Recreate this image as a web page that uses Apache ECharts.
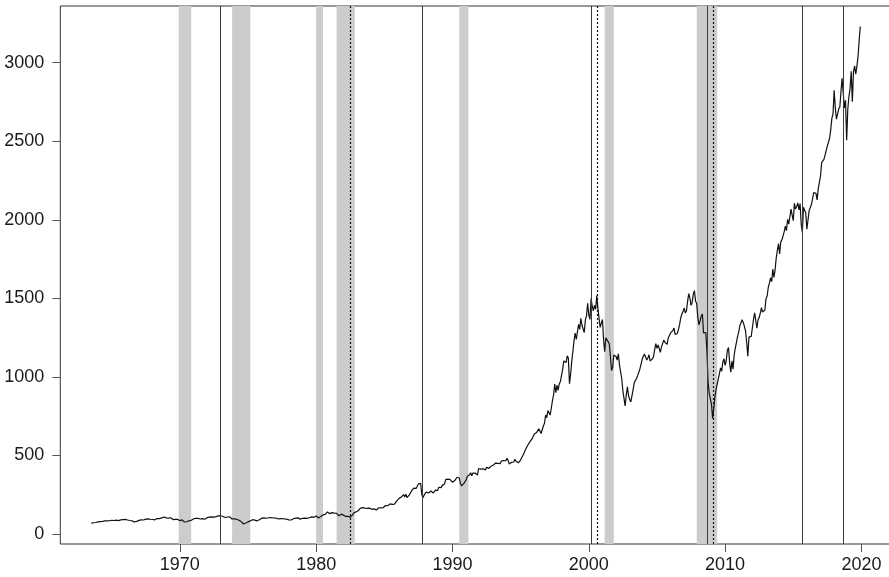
<!DOCTYPE html>
<html>
<head>
<meta charset="utf-8">
<script src="https://cdn.jsdelivr.net/npm/echarts@6/dist/echarts.min.js"></script>
<style>
html,body{margin:0;padding:0;background:#fff;}
#chart{width:889px;height:577px;}
</style>
</head>
<body>
<div id="chart"></div>
<script>
// Monthly index closes, first value = July 1963, last = December 2019
const firstYear = 1963, firstMonth = 7;
const closes = [
69.13,72.50,71.70,74.01,73.23,75.02,
77.04,77.80,78.98,79.46,80.37,81.69,83.18,81.83,84.18,84.86,84.42,84.75,
87.56,87.43,86.16,89.11,88.42,84.12,85.25,87.17,89.96,92.42,91.61,92.43,
92.88,91.22,89.23,91.06,86.13,84.74,83.60,77.10,76.56,80.20,80.45,80.33,
86.61,86.78,90.20,94.01,89.08,90.64,94.75,93.64,96.71,93.90,94.00,96.47,
92.24,89.36,90.20,97.59,98.68,99.58,97.74,98.86,102.67,103.41,108.37,103.86,
103.01,98.13,101.51,103.69,103.46,97.71,91.83,95.51,93.12,97.24,93.81,92.06,
85.02,89.50,89.63,81.52,76.55,72.72,78.05,81.52,84.21,83.25,87.20,92.15,
95.88,96.75,100.31,103.95,99.63,99.70,95.58,99.03,98.34,94.23,93.99,102.09,
103.94,106.57,107.20,107.67,109.53,107.14,107.39,111.09,110.55,111.58,116.67,118.05,
116.03,111.68,111.52,106.97,104.95,104.26,108.22,104.25,108.43,108.29,95.96,97.55,
96.57,96.22,93.98,90.31,87.28,86.00,79.31,72.15,63.54,73.90,69.97,68.56,
76.98,81.59,83.36,87.30,91.15,95.19,88.75,86.88,83.87,89.04,91.24,90.19,
100.86,99.71,102.77,101.64,100.18,104.28,103.44,102.91,105.24,102.90,102.10,107.46,
102.03,99.82,98.42,98.44,96.12,100.48,98.85,96.77,96.53,92.34,94.83,95.10,
89.25,87.04,89.21,96.83,97.24,95.53,100.68,103.29,102.54,93.15,94.70,96.11,
99.93,96.28,101.59,101.76,99.08,102.91,103.81,109.32,109.32,101.82,106.16,107.94,
114.16,113.66,102.09,106.29,111.24,114.24,121.67,122.38,125.46,127.47,140.52,135.76,
129.55,131.27,136.00,132.81,132.59,131.21,130.92,122.79,116.18,121.89,126.35,122.55,
120.40,113.11,111.96,116.44,111.88,109.61,107.09,119.51,120.42,133.71,138.54,140.64,
145.30,148.06,152.96,164.42,162.39,168.11,162.56,164.40,166.07,163.55,166.40,164.93,
163.41,157.06,159.18,160.05,150.55,153.18,150.66,166.68,166.10,166.09,163.58,167.24,
179.63,181.18,180.66,179.83,189.55,191.85,190.92,188.63,182.08,189.82,202.17,211.28,
211.78,226.92,238.90,235.52,247.35,250.84,236.12,252.93,231.32,243.98,249.22,242.17,
274.08,284.20,291.70,288.36,290.10,304.00,318.66,329.80,321.83,251.79,230.30,247.08,
257.07,267.82,258.89,261.33,262.16,273.50,272.02,261.52,271.91,278.97,273.70,277.72,
297.47,288.86,294.87,309.64,320.52,317.98,346.08,351.45,349.15,340.36,345.99,353.40,
329.08,331.89,339.94,330.80,361.23,358.02,356.15,322.56,306.05,304.00,322.22,330.22,
343.93,367.07,375.22,375.35,389.83,371.16,387.81,395.43,387.86,392.46,375.22,417.09,
408.79,412.70,403.69,414.95,415.35,408.14,424.21,414.03,417.80,418.68,431.35,435.71,
438.78,443.38,451.67,440.19,450.19,450.53,448.13,463.56,458.93,467.83,461.79,466.45,
481.61,467.14,445.77,450.91,456.50,444.27,458.26,475.49,462.69,472.35,453.69,459.27,
470.42,487.39,500.71,514.71,533.40,544.75,562.06,561.88,584.41,581.50,605.37,615.93,
636.02,640.43,645.50,654.17,669.12,670.63,639.95,651.99,687.33,705.27,757.02,740.74,
786.16,790.82,757.12,801.34,848.28,885.14,954.29,899.47,947.28,914.62,955.40,970.43,
980.28,1049.34,1101.75,1111.75,1090.82,1133.84,1120.67,957.28,1017.01,1098.67,1163.63,1229.23,
1279.64,1238.33,1286.37,1335.18,1301.84,1372.71,1328.72,1320.41,1282.71,1362.93,1388.91,1469.25,
1394.46,1366.42,1498.58,1452.43,1420.60,1454.60,1430.83,1517.68,1436.51,1429.40,1314.95,1320.28,
1366.01,1239.94,1160.33,1249.46,1255.82,1224.42,1211.23,1133.58,1040.94,1059.78,1139.45,1148.08,
1130.20,1106.73,1147.39,1076.92,1067.14,989.82,911.62,916.07,815.28,885.76,936.31,879.82,
855.70,841.15,848.18,916.92,963.59,974.50,990.31,1008.01,995.97,1050.71,1058.20,1111.92,
1131.13,1144.94,1126.21,1107.30,1120.68,1140.84,1101.72,1104.24,1114.58,1130.20,1173.82,1211.92,
1181.27,1203.60,1180.59,1156.85,1191.50,1191.33,1234.18,1220.33,1228.81,1207.01,1249.48,1248.29,
1280.08,1280.66,1294.87,1310.61,1270.09,1270.20,1276.66,1303.82,1335.85,1377.94,1400.63,1418.30,
1438.24,1406.82,1420.86,1482.37,1530.62,1503.35,1455.27,1473.99,1526.75,1549.38,1481.14,1468.36,
1378.55,1330.63,1322.70,1385.59,1400.38,1280.00,1267.38,1282.83,1166.36,968.75,896.24,903.25,
825.88,735.09,797.87,872.81,919.14,919.32,987.48,1020.62,1057.08,1036.19,1095.63,1115.10,
1073.87,1104.49,1169.43,1186.69,1089.41,1030.71,1101.60,1049.33,1141.20,1183.26,1180.55,1257.64,
1286.12,1327.22,1325.83,1363.61,1345.20,1320.64,1292.28,1218.89,1131.42,1253.30,1246.96,1257.60,
1312.41,1365.68,1408.47,1397.91,1310.33,1362.16,1379.32,1406.58,1440.67,1412.16,1416.18,1426.19,
1498.11,1514.68,1569.19,1597.57,1630.74,1606.28,1685.73,1632.97,1681.55,1756.54,1805.81,1848.36,
1782.59,1859.45,1872.34,1883.95,1923.57,1960.23,1930.67,2003.37,1972.29,2018.05,2067.56,2058.90,
1994.99,2104.50,2067.89,2085.51,2107.39,2063.11,2103.84,1972.18,1920.03,2079.36,2080.41,2043.94,
1940.24,1932.23,2059.74,2065.30,2096.95,2098.86,2173.60,2170.95,2168.27,2126.15,2198.81,2238.83,
2278.87,2363.64,2362.72,2384.20,2411.80,2423.41,2470.30,2471.65,2519.36,2575.26,2647.58,2673.61,
2823.81,2713.83,2640.87,2648.05,2705.27,2718.37,2816.29,2901.52,2913.98,2711.74,2760.17,2506.85,
2704.10,2784.49,2834.40,2945.83,2752.06,2941.76,2980.38,2926.46,2976.74,3037.56,3140.98,3230.78
];

// Shaded recession periods (decimal years)
const recessionStarts = [1969.917, 1973.833, 1980.0, 1981.5, 1990.5, 2001.167, 2007.917];
const recessionEnds   = [1970.833, 1975.167, 1980.5, 1982.833, 1991.167, 2001.833, 2009.417];
// Vertical event lines (decimal years)
const solidEvents  = [1973.0, 1987.75, 2000.18, 2008.68, 2015.69, 2018.68];
const dottedEvents = [1982.5, 2000.6, 2009.1];
// Tick labels
const xTicks = [1970, 1980, 1990, 2000, 2010, 2020];
const yTicks = [0, 500, 1000, 1500, 2000, 2500, 3000];

const seriesData = closes.map((v, i) => [firstYear + (firstMonth - 1 + i) / 12, v]);

const FONT = "'Liberation Sans', Arial, Helvetica, sans-serif";

const chart = echarts.init(document.getElementById('chart'), null, {renderer: 'canvas'});
chart.setOption({
  animation: false,
  backgroundColor: '#ffffff',
  grid: {left: 60.3, top: 6, right: -2, bottom: 33, show: true, borderColor: '#333', borderWidth: 1,
         backgroundColor: 'transparent', containLabel: false, outerBoundsMode: 'none'},
  xAxis: {
    type: 'value', min: 1961.23, max: 2022.17,
    splitLine: {show: false},
    axisLine: {show: false, onZero: false},
    axisTick: {show: true, length: 8, lineStyle: {color: '#555'}, customValues: xTicks},
    axisLabel: {customValues: xTicks, margin: 12, fontSize: 18, fontFamily: FONT, color: '#1a1a1a',
                formatter: v => String(v)}
  },
  yAxis: {
    type: 'value', min: -63.6, max: 3361,
    splitLine: {show: false},
    axisLine: {show: false, onZero: false},
    axisTick: {show: true, length: 8, lineStyle: {color: '#555'}, customValues: yTicks},
    axisLabel: {customValues: yTicks, margin: 16, fontSize: 18, fontFamily: FONT, color: '#1a1a1a',
                formatter: v => String(v)}
  },
  series: [
    {
      type: 'line', z: 1, silent: true, showSymbol: false,
      data: seriesData,
      lineStyle: {width: 0, opacity: 0},
      markArea: {
        silent: true,
        itemStyle: {color: '#cccccc'},
        data: recessionStarts.map((s, i) => [{xAxis: s}, {xAxis: recessionEnds[i]}])
      },
      markLine: {
        silent: true, symbol: ['none', 'none'], label: {show: false},
        data: solidEvents.map(x => ({xAxis: x, lineStyle: {color: '#3a3a3a', width: 1, type: 'solid'}}))
          .concat(dottedEvents.map(x => ({xAxis: x, lineStyle: {color: '#111', width: 1.2, type: [2, 2]}})))
      }
    },
    {
      type: 'line', z: 3, showSymbol: false, symbol: 'none',
      data: seriesData,
      lineStyle: {color: '#111', width: 1.2}
    }
  ]
});
</script>
</body>
</html>
